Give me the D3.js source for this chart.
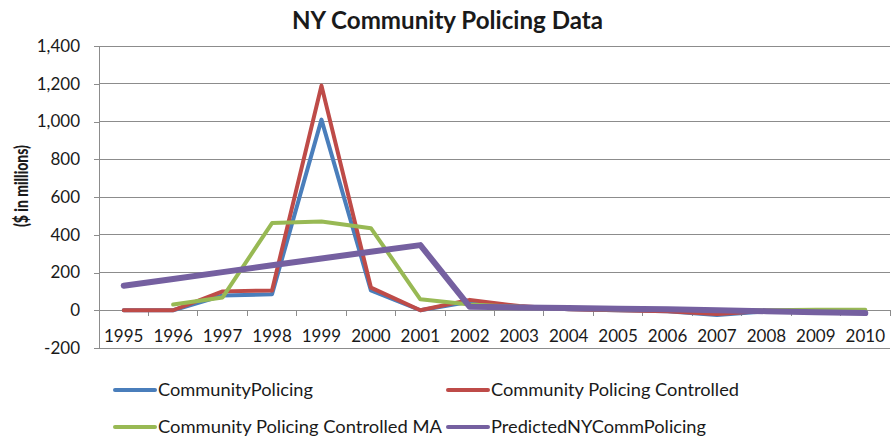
<!DOCTYPE html>
<html>
<head>
<meta charset="utf-8">
<script src="https://cdn.jsdelivr.net/npm/d3@7"></script>
<style>
  html, body { margin: 0; padding: 0; background: #fff; }
  svg { display: block; font-family: Lato, "Open Sans", sans-serif; }
</style>
</head>
<body>
<svg id="chart" width="891" height="437"></svg>
<script>
// Years on the horizontal axis
const years = ["1995","1996","1997","1998","1999","2000","2001","2002","2003","2004","2005","2006","2007","2008","2009","2010"];

// Series values ($ in millions); null = no point for that year
const communityPolicing = [0, 0, 78, 85, 1010, 105, 0, 45, 20, 5, 0, -5, -25, -5, -8, -15];
const communityPolicingControlled = [0, 0, 100, 105, 1190, 120, 0, 55, 22, 5, 0, -5, -20, -3, -5, -12];
const communityPolicingControlledMA = [null, 30, 68, 462, 470, 435, 58, 30, 18, 8, 4, 2, 0, 0, 2, 3];
const predictedNYCommPolicing = [130, 166, 202, 238, 274, 310, 345, 18, 15, 12, 8, 5, 0, -5, -10, -15];

const yTicks = [-200, 0, 200, 400, 600, 800, 1000, 1200, 1400];

const series = [
  { name: "CommunityPolicing", values: communityPolicing, color: "#4A7EBB", width: 4, textLen: 155 },
  { name: "Community Policing Controlled", values: communityPolicingControlled, color: "#BE4B48", width: 4, textLen: 248 },
  { name: "Community Policing Controlled MA", values: communityPolicingControlledMA, color: "#98B954", width: 4, textLen: 284 },
  { name: "PredictedNYCommPolicing", values: predictedNYCommPolicing, color: "#7560A0", width: 6, textLen: 215 }
];

const svg = d3.select("#chart");
const plot = { left: 99, right: 890, top: 46, bottom: 348 };

const x = d3.scaleBand().domain(years).range([plot.left, plot.right]);
const y = d3.scaleLinear().domain([-200, 1400]).range([plot.bottom, plot.top]);

// Thousands separator with a plain hyphen for negatives
const fmt = d => d3.format(",")(d).replace("\u2212", "-");

// Title
svg.append("text")
  .attr("x", 292).attr("y", 29)
  .attr("font-size", 24).attr("font-weight", "bold")
  .attr("textLength", 311).attr("lengthAdjust", "spacingAndGlyphs")
  .attr("fill", "#1a1a1a")
  .text("NY Community Policing Data");

// Horizontal gridlines
svg.append("g").selectAll("line").data(yTicks).join("line")
  .attr("x1", plot.left).attr("x2", plot.right)
  .attr("y1", d => y(d)).attr("y2", d => y(d))
  .attr("stroke", "#8c8c8c").attr("stroke-width", 1)
  .attr("shape-rendering", "crispEdges");

// Vertical axis with tick marks and labels
const yAxis = svg.append("g")
  .attr("transform", `translate(${plot.left},0)`)
  .call(d3.axisLeft(y).tickValues(yTicks).tickSize(5).tickPadding(14).tickFormat(fmt));
yAxis.select(".domain").attr("stroke", "#8c8c8c").attr("shape-rendering", "crispEdges");
yAxis.selectAll(".tick line").attr("stroke", "#8c8c8c").attr("shape-rendering", "crispEdges");
yAxis.selectAll("text").attr("font-size", 17).attr("fill", "#1a1a1a").attr("font-family", "Lato, 'Open Sans', sans-serif");

// Horizontal axis sits on the zero line; tick marks between categories
const xAxisG = svg.append("g").attr("transform", `translate(0,${y(0)})`);
const boundaries = years.map(d => x(d)).concat([plot.right]);
xAxisG.selectAll("line").data(boundaries).join("line")
  .attr("x1", d => d).attr("x2", d => d)
  .attr("y1", 0).attr("y2", 6)
  .attr("stroke", "#8c8c8c").attr("shape-rendering", "crispEdges");
xAxisG.selectAll("text").data(years).join("text")
  .attr("x", d => x(d) + x.bandwidth() / 2)
  .attr("y", 32)
  .attr("text-anchor", "middle")
  .attr("font-size", 17).attr("fill", "#1a1a1a")
  .text(d => d);

// Axis title
svg.append("text")
  .attr("transform", `translate(28,186) rotate(-90)`)
  .attr("text-anchor", "middle")
  .attr("font-size", 18).attr("font-weight", 900)
  .attr("textLength", 82).attr("lengthAdjust", "spacingAndGlyphs")
  .attr("fill", "#1a1a1a")
  .text("($ in millions)");

// Lines
const line = d3.line()
  .defined(d => d.v !== null)
  .x(d => x(d.year) + x.bandwidth() / 2)
  .y(d => y(d.v));

svg.append("g").selectAll("path").data(series).join("path")
  .attr("fill", "none")
  .attr("stroke", d => d.color)
  .attr("stroke-width", d => d.width)
  .attr("stroke-linejoin", "round")
  .attr("stroke-linecap", "round")
  .attr("d", d => line(d.values.map((v, i) => ({ year: years[i], v }))));

// Legend
const legendPos = [
  { x: 115, y: 390 }, { x: 448, y: 390 },
  { x: 115, y: 427 }, { x: 448, y: 427 }
];
const legend = svg.append("g").selectAll("g").data(series).join("g")
  .attr("transform", (d, i) => `translate(${legendPos[i].x},${legendPos[i].y})`);
legend.append("line")
  .attr("x1", 0).attr("x2", 40).attr("y1", 0).attr("y2", 0)
  .attr("stroke", d => d.color).attr("stroke-width", 4)
  .attr("stroke-linecap", "round");
legend.append("text")
  .attr("x", 43).attr("y", 6)
  .attr("font-size", 18).attr("fill", "#1a1a1a")
  .attr("textLength", d => d.textLen).attr("lengthAdjust", "spacingAndGlyphs")
  .text(d => d.name);
</script>
</body>
</html>
